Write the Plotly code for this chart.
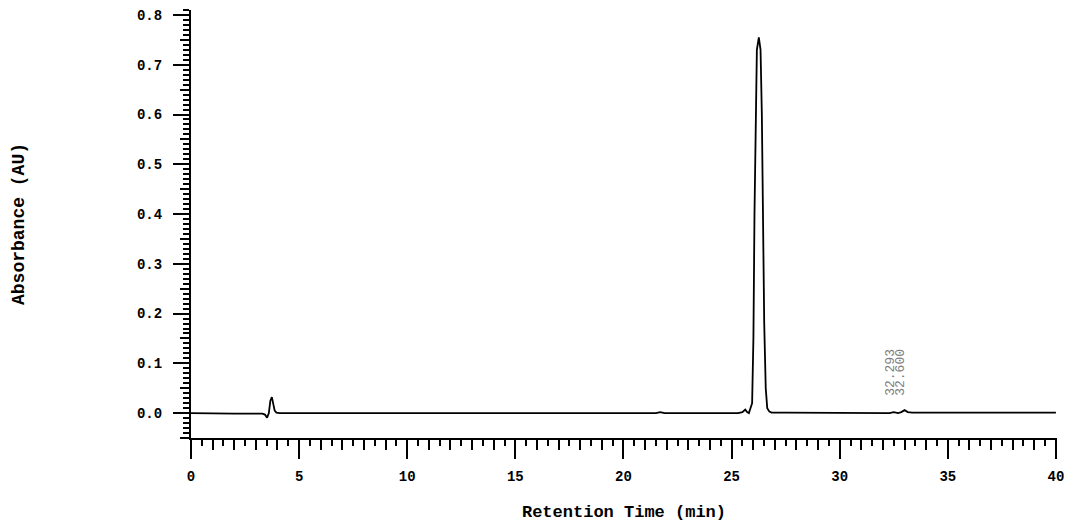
import plotly.graph_objects as go

# Chromatogram trace (time in min, absorbance in AU)
time_min = [0.0, 1.0, 2.0, 3.0, 3.3, 3.42, 3.52, 3.6, 3.67, 3.74, 3.8, 3.87, 3.95, 4.1,
            5.0, 10.0, 15.0, 20.0, 21.5, 21.7, 21.9, 24.5, 25.3, 25.5, 25.63, 25.72, 25.8,
            25.95, 26.01, 26.06, 26.11, 26.17, 26.26, 26.34, 26.40, 26.45, 26.51, 26.58,
            26.65, 26.75, 26.85, 27.5, 30.0, 31.8, 32.3, 32.5, 32.7, 32.85, 33.0, 33.15,
            33.35, 35.0, 40.0]
absorbance = [0.0, -0.001, -0.001, -0.001, -0.001, -0.003, -0.009, 0.0, 0.025, 0.032, 0.02,
              0.005, 0.001, 0.0, 0.0, 0.0, 0.0, 0.0, 0.0, 0.002, 0.0, 0.0, 0.0, 0.002,
              0.007, 0.002, 0.0, 0.02, 0.15, 0.40, 0.62, 0.73, 0.755, 0.73, 0.60, 0.40,
              0.18, 0.05, 0.01, 0.003, 0.001, 0.001, 0.001, 0.0, 0.0, 0.002, 0.0, 0.002,
              0.006, 0.002, 0.001, 0.001, 0.001]

peak_label_times = [32.38, 32.84]
peak_label_texts = ["32.293", "32.600"]

x_range = [0, 40.05]
y_range = [-0.05, 0.81]
x_major_ticks = [0, 5, 10, 15, 20, 25, 30, 35, 40]
x_major_labels = ["0", "5", "10", "15", "20", "25", "30", "35", "40"]
y_major_ticks = [0.0, 0.1, 0.2, 0.3, 0.4, 0.5, 0.6, 0.7, 0.8]
y_major_labels = ["0.0", "0.1", "0.2", "0.3", "0.4", "0.5", "0.6", "0.7", "0.8"]

FONT = "Liberation Mono"

fig = go.Figure()
fig.add_trace(go.Scatter(x=time_min, y=absorbance, mode="lines",
                         line=dict(color="black", width=1.8), showlegend=False,
                         hoverinfo="skip"))
# invisible trace carrying the overlay axes (medium tick marks)
fig.add_trace(go.Scatter(x=time_min, y=absorbance, mode="lines", xaxis="x2", yaxis="y2",
                         line=dict(color="rgba(0,0,0,0)", width=0), showlegend=False,
                         hoverinfo="skip"))

for t, txt in zip(peak_label_times, peak_label_texts):
    fig.add_annotation(x=t, y=0.03, yanchor="bottom", xanchor="center", text=txt,
                       textangle=-90, showarrow=False,
                       font=dict(family=FONT, size=13, color="#808080"))

fig.update_layout(
    width=1067, height=522,
    margin=dict(l=191, r=10, t=10, b=84, autoexpand=False),
    paper_bgcolor="white", plot_bgcolor="white",
    font=dict(family=FONT, size=14, color="black"),
    xaxis=dict(range=x_range, tickmode="array", tickvals=x_major_ticks,
               ticktext=x_major_labels, ticks="outside", ticklen=19, tickwidth=2,
               tickcolor="black", showline=True, linecolor="black", linewidth=2,
               showgrid=False, zeroline=False, ticklabelstandoff=5,
               ticklabeloverflow="allow", automargin=False,
               tickfont=dict(family=FONT, size=14, color="black", weight="bold"),
               minor=dict(dtick=0.5, tick0=0, ticks="outside", ticklen=6, tickwidth=1.5,
                          tickcolor="black", showgrid=False),
               title=dict(text="Retention Time (min)", standoff=24,
                          font=dict(family=FONT, size=17, color="black", weight="bold"))),
    yaxis=dict(range=y_range, tickmode="array", tickvals=y_major_ticks,
               ticktext=y_major_labels, ticks="outside", ticklen=16, tickwidth=2,
               tickcolor="black", showline=True, linecolor="black", linewidth=2,
               showgrid=False, zeroline=False, ticklabelstandoff=8, automargin=False,
               tickfont=dict(family=FONT, size=14, color="black", weight="bold"),
               minor=dict(dtick=0.01, tick0=0, ticks="outside", ticklen=6, tickwidth=1.5,
                          tickcolor="black", showgrid=False),
               title=dict(text="Absorbance (AU)", standoff=108,
                          font=dict(family=FONT, size=18, color="black", weight="bold"))),
    xaxis2=dict(range=x_range, overlaying="x", anchor="y", side="bottom", dtick=1, tick0=0,
                ticks="outside", ticklen=11, tickwidth=1.5, tickcolor="black",
                showticklabels=False, showline=False, showgrid=False, zeroline=False,
                automargin=False),
    yaxis2=dict(range=y_range, overlaying="y", anchor="x", side="left", dtick=0.05,
                tick0=0, ticks="outside", ticklen=10, tickwidth=1.5, tickcolor="black",
                showticklabels=False, showline=False, showgrid=False, zeroline=False,
                automargin=False),
)

fig.write_html("out.html")
